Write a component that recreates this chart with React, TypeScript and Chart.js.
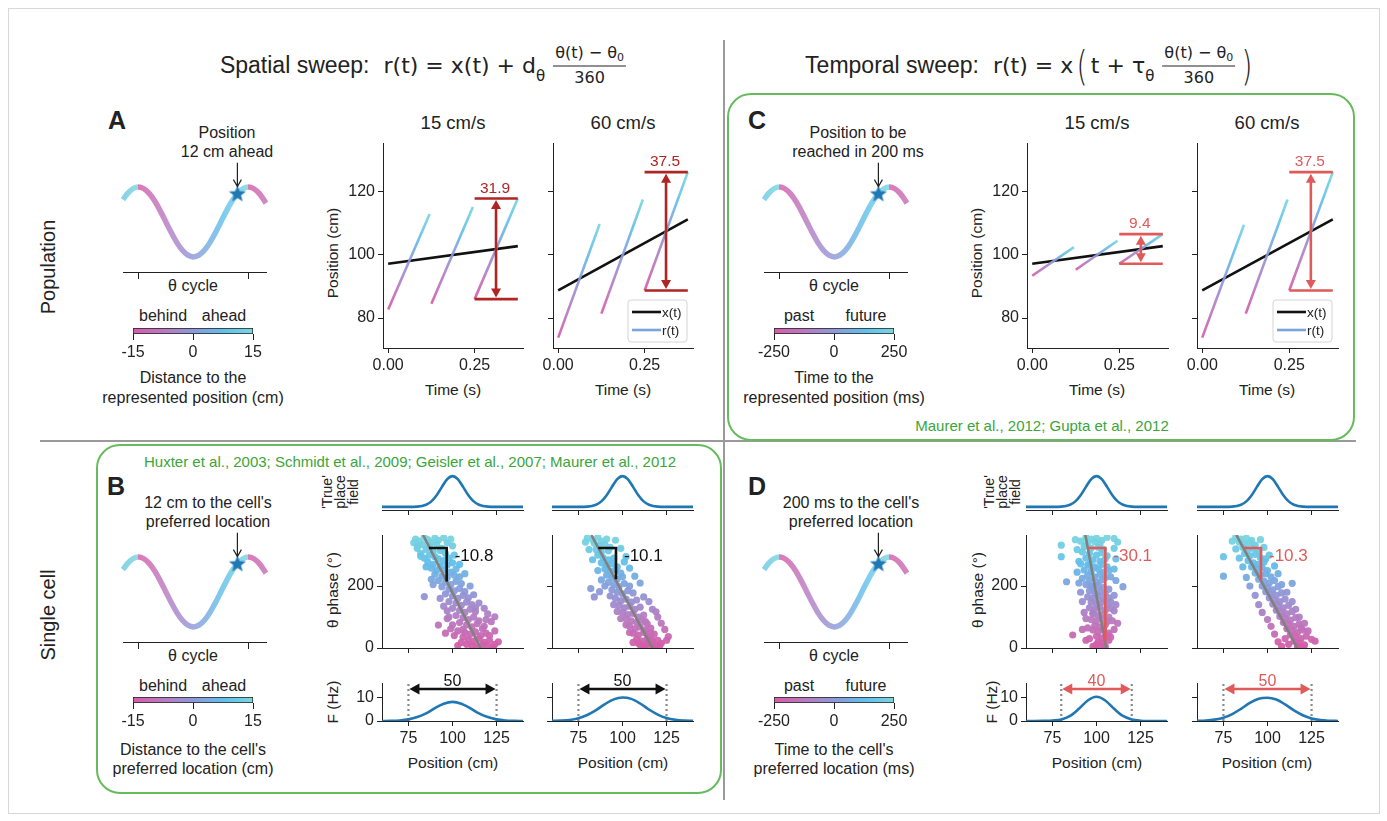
import React, { useEffect, useRef } from 'react';
import { Chart, registerables } from 'chart.js';
Chart.register(...registerables);

const FONT = '"Liberation Sans", Arial, Helvetica, sans-serif';
const MATH = '"DejaVu Sans", "Liberation Sans", sans-serif';
const INK = '#222';
const RED1 = '#b02424';
const RED2 = '#e05a5a';
const BLUE = '#1f77b4';
const GREEN = '#66bb5c';

// ---------------- data ----------------
const cycleX = [-0.14, -0.1, -0.05, 0, 0.05, 0.1, 0.15, 0.2, 0.25, 0.3, 0.35, 0.4, 0.45, 0.5, 0.55, 0.6, 0.65, 0.7, 0.75, 0.8, 0.85, 0.9, 0.95, 1, 1.05, 1.1, 1.16];
const cycleY = [0.64, 0.81, 0.95, 1, 0.95, 0.81, 0.59, 0.31, 0, -0.31, -0.59, -0.81, -0.95, -1, -0.95, -0.81, -0.59, -0.31, 0, 0.31, 0.59, 0.81, 0.95, 1, 0.95, 0.81, 0.54];
const cycleTicks = [0, 1];
const starPoint = [0.9, 0.81];

const timeTicks = [0, 0.25];
const posTicks = [80, 100, 120];
const xTimes = [0, 0.375];
const xSlow = [97.2, 102.8];
const xFast = [88.75, 111.25];
const segTimes = [[0, 0.12], [0.125, 0.245], [0.25, 0.375]];
const rSpatialSlow = [[82.7, 113.0], [84.5, 115.2], [86.0, 117.9]];
const rSpatialFast = [[73.8, 109.8], [81.4, 117.6], [88.75, 126.25]];
const rTemporalSlow = [[93.4, 102.5], [95.3, 104.5], [97.2, 106.6]];
const rTemporalFast = [[73.8, 109.6], [81.4, 117.6], [88.75, 126.25]];
const sweepLabels = ['31.9', '37.5', '9.4', '37.5'];
const sweepRanges = [[86.0, 117.9], [88.75, 126.25], [97.2, 106.6], [88.75, 126.25]];
const sweepSpan = [0.25, 0.375];
const sweepArrowT = 0.312;

const cbSpatialTicks = [-15, 0, 15];
const cbTemporalTicks = [-250, 0, 250];

const fieldTicks = [75, 100, 125];
const placeX = [60, 70, 80, 85, 88, 91, 94, 97, 100, 103, 106, 109, 112, 115, 120, 130, 140];
const placeY = [0, 0, 0.01, 0.07, 0.18, 0.38, 0.65, 0.9, 1, 0.9, 0.65, 0.38, 0.18, 0.07, 0.01, 0, 0];

const phaseTicks = [0, 200];
const phaseB15 = [[79,352],[81,345],[84,357],[86,350],[88,342],[90,355],[92,348],[95,356],[97,340],[83,334],[87,328],[91,335],[94,322],[80,322],[85,318],[89,312],[93,315],[96,305],[82,305],[87,300],[90,295],[84,290],[92,288],[95,282],[98,290],[86,278],[89,270],[93,265],[97,268],[100,275],[88,258],[91,250],[95,252],[99,245],[102,255],[90,238],[94,232],[97,228],[101,235],[104,230],[92,218],[96,212],[99,205],[102,215],[105,208],[84,166],[94,198],[98,190],[101,185],[104,192],[107,182],[96,175],[100,168],[103,160],[106,170],[109,162],[98,150],[102,145],[105,138],[108,148],[111,140],[100,128],[104,122],[107,115],[110,125],[113,118],[124,101],[92,74],[102,105],[106,98],[109,92],[112,100],[115,88],[104,82],[108,75],[111,68],[114,78],[117,62],[103,55],[107,50],[110,45],[113,52],[116,40],[119,48],[106,35],[109,28],[112,22],[115,30],[118,18],[121,25],[124,12],[108,12],[111,8],[114,4],[117,10],[120,6],[123,3],[105,18],[99,62],[97,95],[121,40],[118,70],
  [78,340],[80,330],[99,352],[100,330],[82,296],[101,300],[85,262],[104,270],[88,222],[107,240],[89,205],[110,200],[93,160],[112,172],[95,135],[115,145],[97,120],[118,128],[98,100],[120,110],[100,75],[122,85],[101,40],[124,55],[103,8],[126,20],[96,48],[119,92],[106,60],[113,130]];
const phaseB60 = [[80,355],[83,350],[86,358],[88,345],[91,352],[84,338],[87,330],[90,336],[93,325],[85,318],[88,310],[92,314],[102,295],[86,300],[89,292],[92,285],[95,290],[88,275],[91,268],[94,272],[97,262],[90,255],[93,248],[96,252],[99,242],[82,192],[84,165],[87,182],[91,235],[94,228],[97,222],[100,230],[92,212],[95,205],[98,198],[101,208],[104,200],[94,188],[97,180],[100,175],[103,185],[106,178],[96,160],[99,152],[102,158],[105,148],[108,155],[98,138],[101,130],[104,135],[107,125],[110,132],[100,115],[103,108],[106,112],[109,100],[112,106],[119,117],[102,95],[105,88],[108,82],[111,90],[114,78],[104,70],[107,62],[110,68],[113,58],[116,64],[106,48],[109,42],[112,50],[115,38],[118,45],[126,37],[108,28],[111,22],[114,30],[117,18],[120,25],[110,10],[113,5],[116,12],[119,8],[122,15],[112,2],[115,18],[118,3],[121,6],[109,15],[114,12],[117,25],
  [79,342],[96,348],[81,318],[99,322],[83,285],[101,278],[86,250],[104,258],[88,220],[107,232],[90,200],[110,210],[93,168],[112,165],[95,140],[115,150],[97,118],[117,125],[99,95],[120,100],[102,75],[122,80],[104,50],[124,60],[106,18],[125,25],[116,48],[113,85]];
const phaseD15 = [[94,358],[97,352],[100,355],[103,348],[106,357],[110,354],[91,345],[95,340],[99,343],[102,336],[80,332],[93,328],[97,322],[101,325],[104,318],[80,295],[92,310],[96,305],[100,300],[103,308],[106,298],[94,290],[98,285],[102,280],[105,288],[91,272],[95,268],[99,262],[103,270],[106,262],[93,252],[97,248],[101,255],[104,245],[107,250],[95,235],[99,230],[102,238],[105,228],[92,225],[96,218],[100,212],[103,220],[83,214],[115,198],[94,205],[98,198],[101,202],[104,195],[107,190],[96,185],[99,178],[102,182],[105,175],[95,165],[98,160],[101,168],[104,158],[107,162],[97,148],[100,142],[103,150],[106,140],[96,130],[99,125],[102,132],[105,122],[108,128],[98,112],[101,105],[104,110],[107,100],[97,92],[100,88],[103,95],[106,85],[112,80],[99,72],[102,68],[105,75],[98,58],[101,52],[104,60],[107,48],[86.5,42],[100,38],[103,32],[106,40],[94,25],[101,20],[104,15],[107,25],[102,8],[105,5],[100,12],
  [88,350],[112,342],[89,318],[110,322],[90,280],[111,288],[89,245],[110,255],[90,210],[111,218],[91,180],[110,170],[92,150],[111,140],[93,115],[110,120],[94,95],[109,88],[95,65],[110,60],[96,30],[108,35],[98,5],[96,270],[108,230],[97,200],[108,150],[98,110],[92,60]];
const phaseD60 = [[82,358],[85,352],[88,355],[91,348],[84,342],[87,336],[90,340],[93,332],[75,295],[86,325],[89,318],[92,322],[95,312],[87,305],[90,298],[93,302],[96,292],[99,288],[75,232],[89,282],[92,275],[95,270],[98,278],[91,262],[94,255],[97,260],[100,250],[93,242],[96,236],[99,240],[102,230],[95,222],[98,216],[101,210],[104,218],[114,209],[97,200],[100,195],[103,188],[106,198],[99,182],[102,175],[105,170],[108,178],[101,162],[104,155],[107,150],[110,158],[103,142],[106,136],[109,130],[112,138],[105,122],[108,116],[111,110],[114,118],[107,102],[110,96],[113,90],[116,98],[109,82],[112,76],[115,70],[118,78],[111,62],[114,55],[117,50],[120,58],[113,42],[116,36],[119,30],[122,38],[115,22],[118,16],[121,10],[127,22],[117,5],[120,3],[112,12],[110,30],
  [80,345],[96,350],[82,320],[98,325],[84,290],[101,300],[86,262],[104,265],[88,228],[106,240],[90,200],[108,205],[93,170],[111,180],[95,140],[114,150],[97,115],[116,125],[100,92],[118,100],[102,70],[121,80],[104,45],[123,55],[106,20],[125,28],[108,5],[119,65]];
const regLines = [[[83.3, 365], [116.0, 0]], [[82.3, 365], [117.0, 0]], [[93.7, 365], [105.5, 0]], [[82.3, 365], [116.9, 0]]];
const slopeLabels = ['-10.8', '-10.1', '-30.1', '-10.3'];
const slopeBrackets = [[86.7, 96.7, 323, 215], [86.3, 96.3, 323, 222], [95.0, 105.0, 323, 22], [86.3, 96.3, 323, 220]];

const rateTicks = [0, 10];
const rateX = [60, 65, 70, 75, 80, 85, 90, 95, 100, 105, 110, 115, 120, 125, 130, 135, 140];
const rateB15 = [0.01, 0.06, 0.23, 0.7, 1.7, 3.3, 5.6, 7.5, 8.3, 7.5, 5.6, 3.3, 1.7, 0.7, 0.23, 0.06, 0.01];
const rateB60 = [0.04, 0.15, 0.45, 1.2, 2.6, 4.7, 7.3, 9.4, 10.2, 9.6, 7.6, 5.0, 2.8, 1.3, 0.5, 0.17, 0.05];
const rateD15 = [0, 0.02, 0.1, 0.25, 0.66, 2.2, 5.3, 8.9, 10.5, 8.9, 5.3, 2.2, 0.66, 0.14, 0.02, 0, 0];
const rateD60 = [0.05, 0.2, 0.6, 1.4, 3.0, 5.3, 7.9, 9.7, 10.1, 9.3, 7.2, 4.6, 2.5, 1.1, 0.4, 0.12, 0.03];
const widthLabels = ['50', '50', '40', '50'];
const widthSpans = [[75, 125], [75, 125], [80, 120], [75, 125]];
const widthArrowRate = 13.9;

// ---------------- colour map ----------------
const CMAP: [number, number[]][] = [
  [0, [214, 92, 168]],
  [0.25, [184, 122, 192]],
  [0.5, [142, 152, 216]],
  [0.75, [98, 190, 234]],
  [1, [122, 214, 222]],
];
function cmap(t: number, a = 1) {
  const v = Math.max(0, Math.min(1, t));
  for (let i = 0; i < CMAP.length - 1; i++) {
    const [o0, c0] = CMAP[i];
    const [o1, c1] = CMAP[i + 1];
    if (v <= o1) {
      const f = (v - o0) / (o1 - o0);
      const c = c0.map((q, k) => Math.round(q + (c1[k] - q) * f));
      return `rgba(${c[0]},${c[1]},${c[2]},${a})`;
    }
  }
  const c = CMAP[CMAP.length - 1][1];
  return `rgba(${c[0]},${c[1]},${c[2]},${a})`;
}

// ---------------- helpers ----------------
const TICK_SIZE = 16;
function font(size: number, weight = 'normal') {
  return `${weight} ${size}px ${FONT}`;
}
function dArrow(ctx: CanvasRenderingContext2D, x1: number, y1: number, x2: number, y2: number, color: string, lw = 2.5, hl = 9, hw = 5) {
  const ang = Math.atan2(y2 - y1, x2 - x1);
  const len = Math.hypot(x2 - x1, y2 - y1);
  ctx.save();
  ctx.translate(x1, y1);
  ctx.rotate(ang);
  ctx.strokeStyle = color;
  ctx.fillStyle = color;
  ctx.lineWidth = lw;
  ctx.beginPath();
  ctx.moveTo(hl * 0.7, 0);
  ctx.lineTo(len - hl * 0.7, 0);
  ctx.stroke();
  ctx.beginPath();
  ctx.moveTo(0, 0);
  ctx.lineTo(hl, -hw);
  ctx.lineTo(hl, hw);
  ctx.closePath();
  ctx.fill();
  ctx.beginPath();
  ctx.moveTo(len, 0);
  ctx.lineTo(len - hl, -hw);
  ctx.lineTo(len - hl, hw);
  ctx.closePath();
  ctx.fill();
  ctx.restore();
}

function xAxis(min: number, max: number, ticks: number[], labels: boolean, fmt?: (v: number) => string, tickLength = 5) {
  return {
    type: 'linear', min, max,
    afterBuildTicks: (s: any) => { s.ticks = ticks.map((v) => ({ value: v })); },
    ticks: { display: labels, font: { family: FONT, size: TICK_SIZE }, color: INK, padding: 3, autoSkip: false, maxRotation: 0, callback: (v: any) => (fmt ? fmt(Number(v)) : String(v)) },
    grid: { display: true, drawOnChartArea: false, drawTicks: true, tickLength, color: INK, lineWidth: 1 },
    border: { display: true, color: INK, width: 1 },
  };
}
function hiddenAxis(min: number, max: number) {
  return { type: 'linear', min, max, ticks: { display: false }, grid: { display: false }, border: { display: false } };
}

type Spec = { l: number; t: number; r: number; b: number; pl: number; pr: number; pt: number; pb: number; make: () => any };

function ChartBox({ spec }: { spec: Spec }) {
  const ref = useRef<HTMLCanvasElement | null>(null);
  const { l, t, r, b, pl, pr, pt, pb } = spec;
  const left = l - pl;
  const top = t - pt;
  const width = r - l + pl + pr;
  const height = b - t + pt + pb;
  useEffect(() => {
    const cfg = spec.make();
    cfg.options = cfg.options || {};
    cfg.options.responsive = false;
    cfg.options.maintainAspectRatio = false;
    cfg.options.animation = false;
    cfg.options.devicePixelRatio = 1;
    cfg.options.events = [];
    cfg.options.layout = { padding: { left: 0, right: pr, top: pt, bottom: 0 } };
    cfg.options.plugins = { legend: { display: false }, tooltip: { enabled: false }, title: { display: false } };
    const xs = cfg.options.scales.x;
    const ys = cfg.options.scales.y;
    xs.position = 'bottom';
    ys.position = 'left';
    xs.afterFit = (s: any) => { s.height = pb; s.paddingLeft = 0; s.paddingRight = 0; s.paddingTop = 0; s.paddingBottom = 0; };
    ys.afterFit = (s: any) => { s.width = pl; s.paddingLeft = 0; s.paddingRight = 0; s.paddingTop = 0; s.paddingBottom = 0; };
    const ch = new Chart(ref.current as HTMLCanvasElement, cfg);
    return () => ch.destroy();
  }, []);
  return <canvas ref={ref} width={width} height={height} style={{ position: 'absolute', left, top, width, height }} />;
}

function Txt(p: any) {
  const { x, y, s = 16, c = INK, rot = 0, w = 400, f = FONT, lh = 1.15, children } = p;
  return (
    <div style={{ position: 'absolute', left: x, top: y, transform: `translate(-50%,-50%) rotate(${rot}deg)`, fontSize: s, color: c, fontFamily: f, fontWeight: w, whiteSpace: 'pre', lineHeight: lh, textAlign: 'center' }}>
      {children}
    </div>
  );
}

// ---------------- chart builders ----------------
function makeStar() {
  const cv = document.createElement('canvas');
  cv.width = 20; cv.height = 20;
  const c = cv.getContext('2d') as CanvasRenderingContext2D;
  c.fillStyle = BLUE;
  c.beginPath();
  for (let i = 0; i < 10; i++) {
    const rr = i % 2 === 0 ? 9 : 3.8;
    const a = -Math.PI / 2 + (i * Math.PI) / 5;
    const px = 10 + rr * Math.cos(a);
    const py = 10.5 + rr * Math.sin(a);
    if (i === 0) c.moveTo(px, py); else c.lineTo(px, py);
  }
  c.closePath();
  c.fill();
  return cv;
}

function cycleSpec(l: number, t: number): Spec {
  const xmin = cycleX[0];
  const xmax = cycleX[cycleX.length - 1];
  return {
    l, t, r: l + 157, b: t + 92, pl: 2, pr: 4, pt: 40, pb: 10,
    make: () => ({
      type: 'line',
      data: {
        datasets: [
          { data: [{ x: starPoint[0], y: starPoint[1] }], showLine: false, pointStyle: makeStar(), pointRadius: 9 },
          {
            data: cycleX.map((x, i) => ({ x, y: cycleY[i] })),
            borderWidth: 5.5, pointRadius: 0, cubicInterpolationMode: 'monotone', borderCapStyle: 'butt',
            borderColor: (ctx: any) => {
              const ch = ctx.chart;
              const xs = ch.scales.x;
              if (!ch.chartArea || !xs) return '#9ad';
              const p0 = xs.getPixelForValue(xmin);
              const p1 = xs.getPixelForValue(xmax);
              const g = ch.ctx.createLinearGradient(p0, 0, p1, 0);
              const off = (v: number) => Math.max(0, Math.min(1, (xs.getPixelForValue(v) - p0) / (p1 - p0)));
              const A = 0.82;
              for (let v = xmin; v < -0.001; v += 0.02) g.addColorStop(off(v), cmap(v + 1, A));
              g.addColorStop(Math.max(0, off(0) - 0.0005), cmap(1, A));
              g.addColorStop(off(0), cmap(0, A));
              for (let v = 0.02; v < 0.999; v += 0.02) g.addColorStop(off(v), cmap(v, A));
              g.addColorStop(off(1) - 0.0005, cmap(1, A));
              g.addColorStop(off(1), cmap(0, A));
              for (let v = 1.02; v <= xmax; v += 0.02) g.addColorStop(off(v), cmap(v - 1, A));
              return g;
            },
          },
        ],
      },
      options: {
        clip: false,
        scales: {
          x: xAxis(xmin, xmax, cycleTicks, false, undefined, 7),
          y: hiddenAxis(-1.43, 1.2),
        },
      },
      plugins: [{
        id: 'starArrow',
        afterDatasetsDraw(chart: any) {
          const c = chart.ctx;
          const px = chart.scales.x.getPixelForValue(starPoint[0]);
          const py = chart.scales.y.getPixelForValue(starPoint[1]);
          c.save();
          c.strokeStyle = INK;
          c.lineWidth = 1.2;
          c.beginPath();
          c.moveTo(px, py - 31);
          c.lineTo(px, py - 7);
          c.moveTo(px - 4, py - 14);
          c.lineTo(px, py - 7);
          c.lineTo(px + 4, py - 14);
          c.stroke();
          c.restore();
        },
      }],
    }),
  };
}

function colorbarSpec(l: number, t: number, ticks: number[]): Spec {
  return {
    l, t, r: l + 120, b: t + 6, pl: 20, pr: 20, pt: 2, pb: 28,
    make: () => ({
      type: 'bar',
      data: {
        labels: [''],
        datasets: [{
          data: [[ticks[0], ticks[ticks.length - 1]]],
          borderColor: INK, borderWidth: 1, borderSkipped: false, barPercentage: 1, categoryPercentage: 1,
          backgroundColor: (ctx: any) => {
            const ch = ctx.chart;
            if (!ch.chartArea) return '#aac';
            const g = ch.ctx.createLinearGradient(ch.chartArea.left, 0, ch.chartArea.right, 0);
            CMAP.forEach(([o, c]) => g.addColorStop(o, `rgb(${c[0]},${c[1]},${c[2]})`));
            return g;
          },
        }],
      },
      options: {
        indexAxis: 'y',
        scales: {
          x: { ...xAxis(ticks[0], ticks[ticks.length - 1], ticks, true, undefined, 6), border: { display: false } },
          y: { type: 'category', ticks: { display: false }, grid: { display: false }, border: { display: false } },
        },
      },
    }),
  };
}

function segGradient(ctx: any) {
  const ch = ctx.chart;
  const xs = ch.scales.x;
  const ys = ch.scales.y;
  if (!ch.chartArea || !xs || !ys) return '#9ad';
  const d = ctx.dataset.data;
  const g = ch.ctx.createLinearGradient(xs.getPixelForValue(d[0].x), ys.getPixelForValue(d[0].y), xs.getPixelForValue(d[1].x), ys.getPixelForValue(d[1].y));
  CMAP.forEach(([o, c]) => g.addColorStop(o, `rgba(${c[0]},${c[1]},${c[2]},0.92)`));
  return g;
}

function sweepSpec(l: number, r: number, xLine: number[], segs: number[][], k: number, color: string, showY: boolean, legend: boolean): Spec {
  return {
    l, t: 143, r, b: 348, pl: 48, pr: 12, pt: 8, pb: 30,
    make: () => ({
      type: 'line',
      data: {
        datasets: [
          ...segs.map((s, i) => ({
            data: [{ x: segTimes[i][0], y: s[0] }, { x: segTimes[i][1], y: s[1] }],
            borderColor: segGradient, borderWidth: 2.6, pointRadius: 0, borderCapStyle: 'butt',
          })),
          { data: [{ x: xTimes[0], y: xLine[0] }, { x: xTimes[1], y: xLine[1] }], borderColor: '#111', borderWidth: 2.6, pointRadius: 0 },
        ],
      },
      options: {
        scales: {
          x: xAxis(-0.015, 0.39, timeTicks, true, (v) => v.toFixed(2)),
          y: xAxis(70.5, 135.5, posTicks, showY),
        },
      },
      plugins: [{
        id: 'sweepAnn',
        afterDatasetsDraw(chart: any) {
          const c = chart.ctx;
          const xs = chart.scales.x;
          const ys = chart.scales.y;
          const [lo, hi] = sweepRanges[k];
          const x0 = xs.getPixelForValue(sweepSpan[0]);
          const x1 = xs.getPixelForValue(sweepSpan[1]);
          const yl = ys.getPixelForValue(lo);
          const yh = ys.getPixelForValue(hi);
          const xa = xs.getPixelForValue(sweepArrowT);
          c.save();
          c.strokeStyle = color;
          c.lineWidth = 2.6;
          c.beginPath();
          c.moveTo(x0, yh); c.lineTo(x1, yh);
          c.moveTo(x0, yl); c.lineTo(x1, yl);
          c.stroke();
          dArrow(c, xa, yh + 1.5, xa, yl - 1.5, color, 2.6, 9, 5);
          c.fillStyle = color;
          c.font = font(15.5);
          c.textAlign = 'center';
          c.textBaseline = 'alphabetic';
          c.fillText(sweepLabels[k], xa - 1, yh - 6);
          if (legend) {
            const a = chart.chartArea;
            const w = 59, h = 42;
            const bx = a.right - 6 - w, by = a.bottom - 6 - h;
            c.beginPath();
            c.roundRect(bx, by, w, h, 3);
            c.fillStyle = 'rgba(255,255,255,0.85)';
            c.fill();
            c.strokeStyle = '#d4d4d4';
            c.lineWidth = 1;
            c.stroke();
            const rows: [string, string][] = [['x(t)', '#111'], ['r(t)', '#7ba3de']];
            rows.forEach(([lab, col], i) => {
              const yy = by + 12 + i * 18;
              c.strokeStyle = col;
              c.lineWidth = 2.6;
              c.beginPath();
              c.moveTo(bx + 4, yy); c.lineTo(bx + 33, yy);
              c.stroke();
              c.fillStyle = INK;
              c.font = font(13.5);
              c.textAlign = 'left';
              c.textBaseline = 'middle';
              c.fillText(lab, bx + 34, yy + 1);
            });
          }
          c.restore();
        },
      }],
    }),
  };
}

const FX0 = 60, FX1 = 140;

function placeSpec(l: number): Spec {
  return {
    l, t: 473, r: l + 141, b: 510, pl: 2, pr: 6, pt: 4, pb: 10,
    make: () => ({
      type: 'line',
      data: { datasets: [{ data: placeX.map((x, i) => ({ x, y: placeY[i] })), borderColor: BLUE, borderWidth: 2.6, pointRadius: 0, cubicInterpolationMode: 'monotone' }] },
      options: { scales: { x: xAxis(FX0, FX1, fieldTicks, false), y: hiddenAxis(-0.1, 1.1) } },
    }),
  };
}

function phaseSpec(l: number, k: number, pts: number[][], color: string, showY: boolean): Spec {
  return {
    l, t: 535, r: l + 141, b: 648, pl: 48, pr: 60, pt: 6, pb: 10,
    make: () => ({
      type: 'scatter',
      data: {
        datasets: [
          { type: 'line', data: regLines[k].map(([x, y]) => ({ x, y })), borderColor: '#808080', borderWidth: 2.6, pointRadius: 0 },
          {
            data: pts.map(([x, y]) => ({ x, y })), pointRadius: 3.6, borderWidth: 0,
            backgroundColor: (ctx: any) => cmap((ctx.raw ? ctx.raw.y : 180) / 360, 0.95),
          },
        ],
      },
      options: { scales: { x: xAxis(FX0, FX1, fieldTicks, false), y: xAxis(0, 365, phaseTicks, showY) } },
      plugins: [{
        id: 'slope',
        afterDatasetsDraw(chart: any) {
          const c = chart.ctx;
          const xs = chart.scales.x;
          const ys = chart.scales.y;
          const [xa, xb, ya, yb] = slopeBrackets[k];
          const px0 = xs.getPixelForValue(xa), px1 = xs.getPixelForValue(xb);
          const py0 = ys.getPixelForValue(ya), py1 = ys.getPixelForValue(yb);
          c.save();
          c.strokeStyle = color;
          c.lineWidth = 2.6;
          c.lineJoin = 'miter';
          c.beginPath();
          c.moveTo(px0, py0); c.lineTo(px1, py0); c.lineTo(px1, py1);
          c.stroke();
          c.fillStyle = color;
          c.font = font(17);
          c.textAlign = 'left';
          c.textBaseline = 'middle';
          c.fillText(slopeLabels[k], px1 + 8, py0 + 8);
          c.restore();
        },
      }],
    }),
  };
}

function rateSpec(l: number, k: number, vals: number[], color: string, showY: boolean): Spec {
  const [a, b] = widthSpans[k];
  return {
    l, t: 683, r: l + 141, b: 721, pl: 48, pr: 14, pt: 22, pb: 30,
    make: () => ({
      type: 'line',
      data: {
        datasets: [
          { data: rateX.map((x, i) => ({ x, y: vals[i] })), borderColor: BLUE, borderWidth: 2.6, pointRadius: 0, cubicInterpolationMode: 'monotone' },
          { data: [{ x: a, y: 0 }, { x: a, y: 16.5 }], borderColor: '#8a8a8a', borderWidth: 2.2, borderDash: [2, 3], pointRadius: 0 },
          { data: [{ x: b, y: 0 }, { x: b, y: 16.5 }], borderColor: '#8a8a8a', borderWidth: 2.2, borderDash: [2, 3], pointRadius: 0 },
        ],
      },
      options: { scales: { x: xAxis(FX0, FX1, fieldTicks, true), y: xAxis(0, 16.5, rateTicks, showY) } },
      plugins: [{
        id: 'width',
        afterDatasetsDraw(chart: any) {
          const c = chart.ctx;
          const xs = chart.scales.x;
          const ys = chart.scales.y;
          const y = ys.getPixelForValue(widthArrowRate);
          const x0 = xs.getPixelForValue(a), x1 = xs.getPixelForValue(b);
          dArrow(c, x0 + 1, y, x1 - 1, y, color, 2.6, 10, 5.5);
          c.save();
          c.fillStyle = color;
          c.font = font(16);
          c.textAlign = 'center';
          c.textBaseline = 'alphabetic';
          c.fillText(widthLabels[k], (x0 + x1) / 2, y - 3);
          c.restore();
        },
      }],
    }),
  };
}

// ---------------- layout ----------------
const SPECS: Spec[] = [
  cycleSpec(115, 180),
  cycleSpec(756, 180),
  cycleSpec(115, 550),
  cycleSpec(756, 550),
  colorbarSpec(133, 328, cbSpatialTicks),
  colorbarSpec(774, 328, cbTemporalTicks),
  colorbarSpec(133, 697, cbSpatialTicks),
  colorbarSpec(774, 697, cbTemporalTicks),
  sweepSpec(383, 523, xSlow, rSpatialSlow, 0, RED1, true, false),
  sweepSpec(553, 693, xFast, rSpatialFast, 1, RED1, false, true),
  sweepSpec(1027, 1168, xSlow, rTemporalSlow, 2, RED2, true, false),
  sweepSpec(1197, 1338, xFast, rTemporalFast, 3, RED2, false, true),
  placeSpec(382), placeSpec(552), placeSpec(1026), placeSpec(1197),
  phaseSpec(382, 0, phaseB15, '#111', true),
  phaseSpec(552, 1, phaseB60, '#111', false),
  phaseSpec(1026, 2, phaseD15, RED2, true),
  phaseSpec(1197, 3, phaseD60, RED2, false),
  rateSpec(382, 0, rateB15, '#111', true),
  rateSpec(552, 1, rateB60, '#111', false),
  rateSpec(1026, 2, rateD15, RED2, true),
  rateSpec(1197, 3, rateD60, RED2, false),
];

function Frac({ num, sub }: { num: string; sub: string }) {
  return (
    <span style={{ display: 'inline-flex', flexDirection: 'column', alignItems: 'center', fontFamily: MATH, fontSize: 16, lineHeight: 1, margin: '0 4px 0 8px' }}>
      <span style={{ padding: '0 2px 3px' }}>{num}<span style={{ fontSize: 11, verticalAlign: -3 }}>{sub}</span></span>
      <span style={{ borderTop: `1.3px solid ${INK}`, alignSelf: 'stretch', textAlign: 'center', paddingTop: 3 }}>360</span>
    </span>
  );
}

export default function App() {
  return (
    <div style={{ position: 'absolute', left: 0, top: 0, width: 1387, height: 821, overflow: 'hidden', background: '#fff', fontFamily: FONT, color: INK }}>
      <div style={{ position: 'absolute', left: 8, top: 8, width: 1370, height: 804, border: '1px solid #d8d8d8' }} />
      {/* dividers */}
      <div style={{ position: 'absolute', left: 723, top: 40, width: 2, height: 760, background: '#9a9a9a' }} />
      <div style={{ position: 'absolute', left: 40, top: 440, width: 1316, height: 2, background: '#9a9a9a' }} />
      {/* green boxes */}
      <div style={{ position: 'absolute', left: 727, top: 93, width: 624, height: 344, border: `2px solid ${GREEN}`, borderRadius: 24 }} />
      <div style={{ position: 'absolute', left: 96, top: 444, width: 622, height: 346, border: `2px solid ${GREEN}`, borderRadius: 24 }} />

      {/* titles */}
      <div style={{ position: 'absolute', left: 425, top: 65, transform: 'translate(-50%,-50%)', display: 'flex', alignItems: 'center', whiteSpace: 'nowrap', fontSize: 23, color: INK }}>
        <span style={{ fontFamily: FONT }}>Spatial sweep:</span>
        <span style={{ fontFamily: MATH, marginLeft: 14, fontSize: 22 }}>r(t) = x(t) + d</span>
        <span style={{ fontFamily: MATH, fontSize: 15, alignSelf: 'flex-end', marginBottom: 1 }}>θ</span>
        <Frac num="θ(t) − θ" sub="0" />
      </div>
      <div style={{ position: 'absolute', left: 1030, top: 65, transform: 'translate(-50%,-50%)', display: 'flex', alignItems: 'center', whiteSpace: 'nowrap', fontSize: 23, color: INK }}>
        <span style={{ fontFamily: FONT }}>Temporal sweep:</span>
        <span style={{ fontFamily: MATH, marginLeft: 14, fontSize: 22 }}>r(t) = x</span>
        <span style={{ fontFamily: MATH, fontSize: 40, fontWeight: 200, lineHeight: 1, transform: 'scaleX(0.7)', margin: '0 1px' }}>(</span>
        <span style={{ fontFamily: MATH, fontSize: 22 }}>t + τ</span>
        <span style={{ fontFamily: MATH, fontSize: 15, alignSelf: 'flex-end', marginBottom: 1 }}>θ</span>
        <Frac num="θ(t) − θ" sub="0" />
        <span style={{ fontFamily: MATH, fontSize: 40, fontWeight: 200, lineHeight: 1, transform: 'scaleX(0.7)' }}>)</span>
      </div>

      {/* row labels */}
      <Txt x={48} y={267} s={20} rot={-90}>Population</Txt>
      <Txt x={48} y={615} s={20} rot={-90}>Single cell</Txt>

      {/* panel letters */}
      <Txt x={117} y={120} s={25} w={700}>A</Txt>
      <Txt x={757} y={120} s={25} w={700}>C</Txt>
      <Txt x={116} y={486} s={25} w={700}>B</Txt>
      <Txt x={757} y={486} s={25} w={700}>D</Txt>

      {/* citations */}
      <Txt x={410} y={462} s={15} c="#3aa53a">Huxter et al., 2003; Schmidt et al., 2009; Geisler et al., 2007; Maurer et al., 2012</Txt>
      <Txt x={1042} y={426} s={15} c="#3aa53a">Maurer et al., 2012; Gupta et al., 2012</Txt>

      {/* theta cycle annotations */}
      <Txt x={227} y={142} s={16} lh={1.2}>{'Position\n12 cm ahead'}</Txt>
      <Txt x={858} y={142} s={16} lh={1.2}>{'Position to be\nreached in 200 ms'}</Txt>
      <Txt x={208} y={512} s={16} lh={1.2}>{"12 cm to the cell's\npreferred location"}</Txt>
      <Txt x={851} y={512} s={16} lh={1.2}>{"200 ms to the cell's\npreferred location"}</Txt>
      <Txt x={193} y={286} s={16}>θ cycle</Txt>
      <Txt x={834} y={286} s={16}>θ cycle</Txt>
      <Txt x={193} y={656} s={16}>θ cycle</Txt>
      <Txt x={834} y={656} s={16}>θ cycle</Txt>

      {/* colorbar labels */}
      <Txt x={163} y={316} s={16}>behind</Txt>
      <Txt x={224} y={316} s={16}>ahead</Txt>
      <Txt x={799} y={316} s={16}>past</Txt>
      <Txt x={866} y={316} s={16}>future</Txt>
      <Txt x={163} y={686} s={16}>behind</Txt>
      <Txt x={224} y={686} s={16}>ahead</Txt>
      <Txt x={799} y={686} s={16}>past</Txt>
      <Txt x={866} y={686} s={16}>future</Txt>
      <Txt x={193} y={388} s={16} lh={1.25}>{'Distance to the\nrepresented position (cm)'}</Txt>
      <Txt x={834} y={388} s={16} lh={1.25}>{'Time to the\nrepresented position (ms)'}</Txt>
      <Txt x={193} y={759} s={16} lh={1.2}>{"Distance to the cell's\npreferred location (cm)"}</Txt>
      <Txt x={834} y={759} s={16} lh={1.2}>{"Time to the cell's\npreferred location (ms)"}</Txt>

      {/* population plot texts */}
      <Txt x={453} y={123} s={18.5}>15 cm/s</Txt>
      <Txt x={623} y={123} s={18.5}>60 cm/s</Txt>
      <Txt x={1097} y={123} s={18.5}>15 cm/s</Txt>
      <Txt x={1267} y={123} s={18.5}>60 cm/s</Txt>
      <Txt x={333} y={253} s={15.5} rot={-90}>Position (cm)</Txt>
      <Txt x={977} y={253} s={15.5} rot={-90}>Position (cm)</Txt>
      <Txt x={453} y={390} s={15.5}>Time (s)</Txt>
      <Txt x={623} y={390} s={15.5}>Time (s)</Txt>
      <Txt x={1097} y={390} s={15.5}>Time (s)</Txt>
      <Txt x={1267} y={390} s={15.5}>Time (s)</Txt>

      {/* single cell texts */}
      <Txt x={340} y={492} s={14} rot={-90} lh="13px">{"'True'\nplace\nfield"}</Txt>
      <Txt x={1002} y={492} s={14} rot={-90} lh="13px">{"'True'\nplace\nfield"}</Txt>
      <Txt x={333} y={590} s={15.5} rot={-90}>θ phase (°)</Txt>
      <Txt x={978} y={590} s={15.5} rot={-90}>θ phase (°)</Txt>
      <Txt x={333} y={702} s={15.5} rot={-90}>F (Hz)</Txt>
      <Txt x={992} y={702} s={15.5} rot={-90}>F (Hz)</Txt>
      <Txt x={453} y={763} s={15.5}>Position (cm)</Txt>
      <Txt x={623} y={763} s={15.5}>Position (cm)</Txt>
      <Txt x={1097} y={763} s={15.5}>Position (cm)</Txt>
      <Txt x={1267} y={763} s={15.5}>Position (cm)</Txt>

      {SPECS.map((s, i) => <ChartBox key={i} spec={s} />)}
    </div>
  );
}
